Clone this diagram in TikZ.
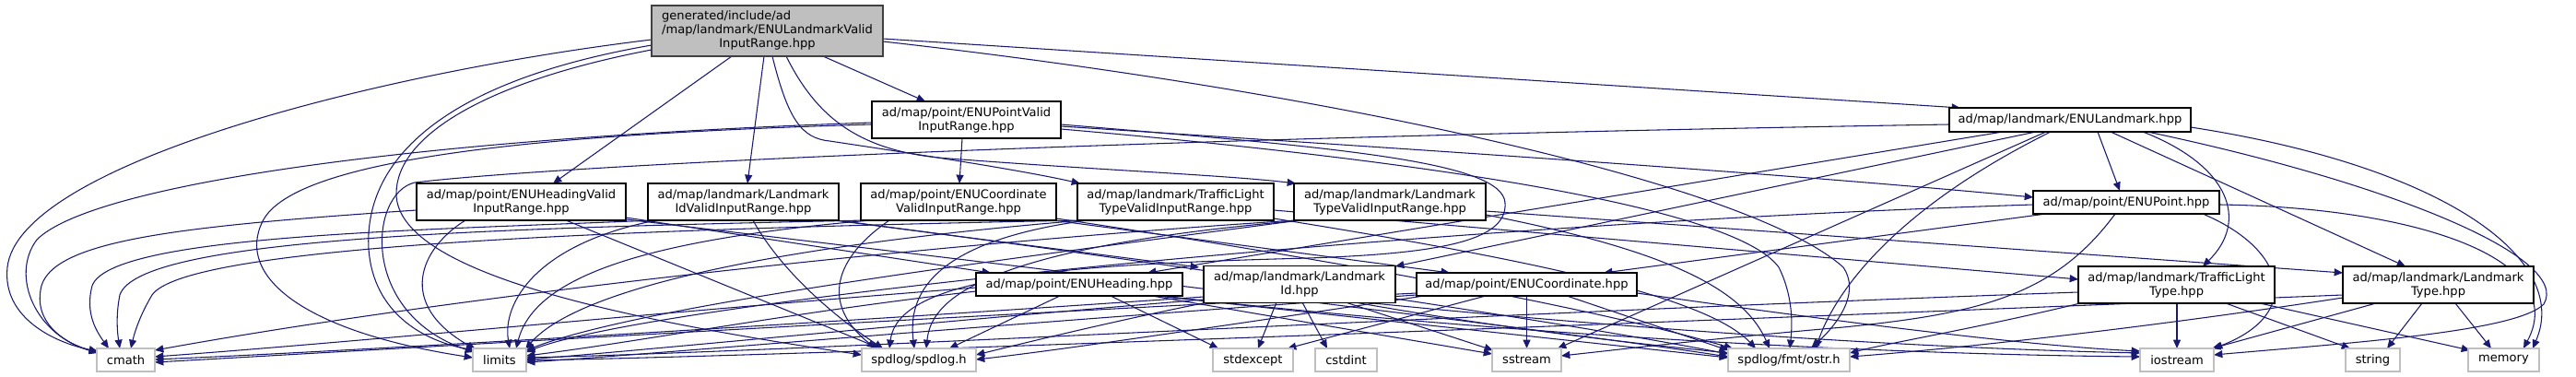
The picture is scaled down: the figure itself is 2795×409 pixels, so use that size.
\documentclass[tikz,border=0pt]{standalone}
\usepackage{fontspec}
\setmainfont{DejaVu Sans}
\usetikzlibrary{calc,arrows.meta}
\pgfdeclarelayer{bg}
\pgfsetlayers{bg,main}
\definecolor{edgeblue}{HTML}{191970}
\definecolor{rootfill}{HTML}{BFBFBF}
\definecolor{rootdraw}{HTML}{404040}
\definecolor{leafdraw}{HTML}{BFBFBF}
\newcommand\edg[5]{\draw[conn] ($(#1)+(#2)$) #3 ($(#4)+(#5)$);}
\newcommand\nod[7][inner]{\node[#1,minimum width=#5*0.75pt,minimum height=#6*0.75pt] (#2) at (#3,#4) {#7};}
\begin{document}
\begin{tikzpicture}[x=0.75pt,y=-0.75pt,
 box/.style={rectangle,inner sep=0pt,outer sep=0pt,align=center,font=\fontsize{9.8}{11.25}\selectfont,text=black},
 inner/.style={box,draw=black,fill=white,line width=0.9pt},
 rootbox/.style={box,draw=rootdraw,fill=rootfill,line width=1pt},
 leaf/.style={box,draw=leafdraw,fill=white,line width=1pt},
 conn/.style={draw=edgeblue,line width=0.8pt,-{Triangle[length=7pt,width=6pt]}}]
\useasboundingbox (0,0) rectangle (2795,409);
% nodes
\nod[rootbox]{R}{832.5}{33.5}{251}{55}{\begin{tabular}{@{}l@{}}generated/include/ad\\/map/landmark/ENULandmarkValid\\\multicolumn{1}{@{}c@{}}{InputRange.hpp}\end{tabular}}
\nod{PV}{1048.5}{130}{205}{40}{ad/map/point/ENUPointValid\\InputRange.hpp}
\nod{EL}{2246}{130}{262}{26}{ad/map/landmark/ENULandmark.hpp}
\nod{HV}{565.5}{219}{227}{40}{ad/map/point/ENUHeadingValid\\InputRange.hpp}
\nod{LIV}{806.5}{219}{207}{40}{ad/map/landmark/Landmark\\IdValidInputRange.hpp}
\nod{CV}{1040}{219}{212}{40}{ad/map/point/ENUCoordinate\\ValidInputRange.hpp}
\nod{TLV}{1275.5}{219}{213}{40}{ad/map/landmark/TrafficLight\\TypeValidInputRange.hpp}
\nod{LTV}{1508}{219}{208}{40}{ad/map/landmark/Landmark\\TypeValidInputRange.hpp}
\nod{P}{2307}{219.5}{202}{25}{ad/map/point/ENUPoint.hpp}
\nod{H}{1171}{308.5}{224}{25}{ad/map/point/ENUHeading.hpp}
\nod{LI}{1410}{308.5}{208}{40}{ad/map/landmark/Landmark\\Id.hpp}
\nod{C}{1656.5}{308.5}{239}{25}{ad/map/point/ENUCoordinate.hpp}
\nod{TL}{2361.5}{309}{213}{40}{ad/map/landmark/TrafficLight\\Type.hpp}
\nod{LT}{2645.5}{309}{207}{40}{ad/map/landmark/Landmark\\Type.hpp}
\nod[leaf]{cmath}{136.5}{390.5}{63}{25}{cmath}
\nod[leaf]{limits}{542}{390.5}{58}{25}{limits}
\nod[leaf]{spdlog}{997}{390.5}{124}{25}{spdlog/spdlog.h}
\nod[leaf]{stdexcept}{1359.5}{390.5}{87}{25}{stdexcept}
\nod[leaf]{cstdint}{1460.5}{390.5}{67}{25}{cstdint}
\nod[leaf]{sstream}{1656.5}{390.5}{75}{25}{sstream}
\nod[leaf]{ostr}{1941}{390.5}{132}{25}{spdlog/fmt/ostr.h}
\nod[leaf]{iostream}{2362}{390.5}{80}{25}{iostream}
\nod[leaf]{string}{2574.5}{390.5}{59}{25}{string}
\nod[leaf]{memory}{2716.5}{390.5}{77}{25}{memory}
\begin{pgfonlayer}{bg}
% R
\edg{R}{-125.5,9.5}{.. controls (400,80) and (20,180) .. (8,290) .. controls (2,345) and (60,372) ..}{cmath}{-30.5,-9.5}
\edg{R}{-125.5,15.5}{.. controls (470,90) and (395,180) .. (400,270) .. controls (405,340) and (460,370) ..}{limits}{-27,-10.5}
\edg{R}{-125.5,20.5}{.. controls (520,90) and (430,150) .. (430,210) .. controls (430,300) and (700,350) ..}{spdlog}{-62,-5.5}
\edg{R}{-38.5,27.5}{--}{HV}{34.5,-20}
\edg{R}{-3.5,27.5}{--}{LIV}{4.5,-20}
\edg{R}{5.5,27.5}{.. controls (855,130) and (870,150) .. (900,153) .. controls (1000,168) and (1110,185) ..}{TLV}{-103.5,-20}
\edg{R}{20.5,27.5}{.. controls (885,125) and (930,165) .. (1030,172) .. controls (1200,185) and (1330,190) ..}{LTV}{-102,-20}
\edg{R}{60.5,27.5}{--}{PV}{-44.5,-20}
\edg{R}{125.5,8.5}{--}{EL}{-119,-13}
\edg{R}{125.5,11.5}{.. controls (1450,100) and (1900,200) .. (2000,290) .. controls (2020,320) and (1990,355) ..}{ostr}{24,-12.5}
% PV
\edg{PV}{-102.5,3}{.. controls (450,150) and (100,200) .. (40,260) .. controls (10,300) and (40,365) ..}{cmath}{-30.5,-8.5}
\edg{PV}{-102.5,5}{.. controls (600,145) and (320,170) .. (285,240) .. controls (255,300) and (330,360) ..}{limits}{-29,-2.5}
\edg{PV}{-4.5,20}{--}{CV}{1,-20}
\edg{PV}{102.5,7}{.. controls (1500,160) and (1900,185) ..}{P}{-101,-5.5}
\edg{PV}{102.5,10}{.. controls (1500,170) and (1880,220) .. (1930,290) .. controls (1945,320) and (1945,350) ..}{ostr}{1,-12.5}
\edg{PV}{102.5,5}{.. controls (1450,160) and (1630,175) .. (1633,220) .. controls (1636,262) and (1560,275) .. (1420,280) .. controls (1150,287) and (975,300) ..}{spdlog}{-32,-12.5}
% HV
\edg{HV}{-113.5,9}{.. controls (200,245) and (60,260) .. (45,310) .. controls (35,350) and (70,372) ..}{cmath}{-30.5,-7.5}
\edg{HV}{-60.5,20}{.. controls (455,270) and (430,330) ..}{limits}{-26,-11.5}
\edg{HV}{48.5,20}{--}{spdlog}{-42,-12.5}
\edg{HV}{113.5,17}{--}{H}{-96,-12.5}
\edg{HV}{113.5,19}{.. controls (1200,300) and (1700,360) ..}{ostr}{-66,-3.5}
% LIV
\edg{LIV}{-96.5,20}{.. controls (450,250) and (120,255) .. (100,310) .. controls (92,340) and (105,360) ..}{cmath}{-18.5,-12.5}
\edg{LIV}{-94.5,20}{.. controls (580,265) and (545,330) ..}{limits}{11,-12.5}
\edg{LIV}{98.5,20}{--}{LI}{-109,-18.5}
\edg{LIV}{10.5,20}{.. controls (845,290) and (900,340) ..}{spdlog}{-39,-12.5}
\edg{LIV}{101.5,20}{.. controls (1300,290) and (1700,350) ..}{ostr}{-66,-6.5}
% CV
\edg{CV}{-100,20}{.. controls (500,248) and (150,260) .. (130,320) .. controls (125,345) and (128,365) ..}{cmath}{-6.5,-12.5}
\edg{CV}{-95,20}{.. controls (700,260) and (580,300) ..}{limits}{18,-12.5}
\edg{CV}{103,20}{--}{C}{-83.5,-12.5}
\edg{CV}{-75,20}{.. controls (905,280) and (890,330) ..}{spdlog}{-47,-12.5}
\edg{CV}{106,18}{.. controls (1500,290) and (1750,340) ..}{ostr}{-61,-12.5}
% TLV
\edg{TLV}{-103.5,20}{.. controls (600,250) and (200,270) .. (165,320) .. controls (150,345) and (145,365) ..}{cmath}{5.5,-12.5}
\edg{TLV}{-100.5,20}{.. controls (800,270) and (620,320) ..}{limits}{28,-11.5}
\edg{TLV}{106.5,9}{--}{TL}{-106.5,-6}
\edg{TLV}{-95.5,20}{.. controls (1010,262) and (985,320) ..}{spdlog}{-5,-12.5}
\edg{TLV}{106.5,18}{.. controls (1650,280) and (1850,320) ..}{ostr}{-36,-12.5}
% LTV
\edg{LTV}{-102,20}{.. controls (1000,265) and (500,320) ..}{cmath}{31.5,-10.5}
\edg{LTV}{-98,20}{.. controls (1100,280) and (700,330) ..}{limits}{29,-10.5}
\edg{LTV}{104,10}{--}{LT}{-103.5,-13}
\edg{LTV}{-95,20}{.. controls (1050,270) and (1010,330) ..}{spdlog}{8,-12.5}
\edg{LTV}{104,14}{.. controls (1800,270) and (1890,310) ..}{ostr}{-21,-12.5}
% H
\edg{H}{-112,3.5}{.. controls (700,340) and (400,370) ..}{cmath}{31.5,-3.5}
\edg{H}{-112,7.5}{.. controls (850,340) and (700,370) ..}{limits}{29,-4.5}
\edg{H}{-21,12.5}{--}{spdlog}{33,-12.5}
\edg{H}{34,12.5}{--}{stdexcept}{-37.5,-12.5}
\edg{H}{79,12.5}{--}{sstream}{-37.5,-6.5}
\edg{H}{84,12.5}{--}{ostr}{-66,-2.5}
\edg{H}{89,12.5}{.. controls (1700,370) and (2100,385) ..}{iostream}{-40,-3.5}
% LI
\edg{LI}{-104,13.5}{.. controls (900,350) and (400,380) ..}{cmath}{31.5,-0.5}
\edg{LI}{-104,16.5}{.. controls (1000,350) and (700,380) ..}{limits}{29,-0.5}
\edg{LI}{-100,19.5}{.. controls (1200,350) and (1100,375) ..}{spdlog}{62,-5.5}
\edg{LI}{-25,19.5}{--}{stdexcept}{5.5,-12.5}
\edg{LI}{3,19.5}{--}{cstdint}{-20.5,-12.5}
\edg{LI}{50,19.5}{--}{sstream}{-36.5,-10.5}
\edg{LI}{60,19.5}{.. controls (1650,360) and (1800,375) ..}{ostr}{-66,-7.5}
\edg{LI}{70,19.5}{.. controls (1800,360) and (2100,378) ..}{iostream}{-40,-7.5}
% C
\edg{C}{-119.5,9.5}{.. controls (1000,345) and (400,380) ..}{cmath}{31.5,2.5}
\edg{C}{-119.5,11.5}{.. controls (1100,350) and (700,385) ..}{limits}{29,2.5}
\edg{C}{-111.5,12.5}{.. controls (1350,350) and (1150,380) ..}{spdlog}{62,-0.5}
\edg{C}{-44.5,12.5}{--}{stdexcept}{37.5,-12.5}
\edg{C}{0,12.5}{--}{sstream}{0,-12.5}
\edg{C}{43.5,12.5}{--}{ostr}{-66,-10.5}
\edg{C}{119.5,9.5}{.. controls (2000,350) and (2200,375) ..}{iostream}{-40,-9.5}
% EL
\edg{EL}{-131,5}{.. controls (1200,150) and (600,180) .. (450,198) .. controls (400,210) and (390,340) ..}{limits}{-28,-8.5}
\edg{EL}{-73,13}{--}{H}{74,-12.5}
\edg{EL}{-37,13}{--}{LI}{104,-19.5}
\edg{EL}{-26,13}{--}{sstream}{33.5,-12.5}
\edg{EL}{-21,13}{.. controls (2050,230) and (1990,320) ..}{ostr}{29,-12.5}
\edg{EL}{30,13}{--}{P}{-7,-12.5}
\edg{EL}{79,13}{.. controls (2420,180) and (2440,240) ..}{TL}{28.5,-20}
\edg{EL}{44,13}{--}{LT}{-35.5,-20}
\edg{EL}{131,8}{.. controls (2650,180) and (2790,280) ..}{memory}{31.5,-12.5}
\edg{EL}{84,13}{.. controls (2600,200) and (2790,280) .. (2760,330) .. controls (2730,360) and (2550,372) ..}{iostream}{40,-5.5}
% P
\edg{P}{101,2.5}{.. controls (2620,225) and (2790,280) ..}{memory}{21.5,-12.5}
\edg{P}{83,12.5}{.. controls (2480,270) and (2500,340) ..}{iostream}{40,-12.5}
\edg{P}{-101,2.5}{.. controls (1500,245) and (700,330) ..}{limits}{29,-8.5}
\edg{P}{-87,12.5}{--}{C}{83.5,-12.5}
\edg{P}{-12,12.5}{.. controls (2230,320) and (2150,340) .. (2000,355) .. controls (1850,368) and (1750,380) ..}{sstream}{37.5,-4.5}
% TL
\edg{TL}{-106.5,8}{.. controls (1600,340) and (900,380) ..}{limits}{29,-2.5}
\edg{TL}{-104.5,20}{.. controls (2150,355) and (2050,372) ..}{ostr}{66,-7.5}
\edg{TL}{0.5,20}{--}{iostream}{0,-12.5}
\edg{TL}{53.5,20}{--}{string}{-24.5,-12.5}
\edg{TL}{90.5,20}{--}{memory}{-36.5,-10.5}
% LT
\edg{LT}{-103.5,11}{.. controls (1800,350) and (900,385) ..}{limits}{29,0.5}
\edg{LT}{-103.5,14}{.. controls (2300,360) and (2100,380) ..}{ostr}{66,-3.5}
\edg{LT}{-67.5,20}{--}{iostream}{38,-12.5}
\edg{LT}{-17.5,20}{--}{string}{15.5,-12.5}
\edg{LT}{18.5,20}{--}{memory}{-13.5,-12.5}
\end{pgfonlayer}
\end{tikzpicture}
\end{document}
